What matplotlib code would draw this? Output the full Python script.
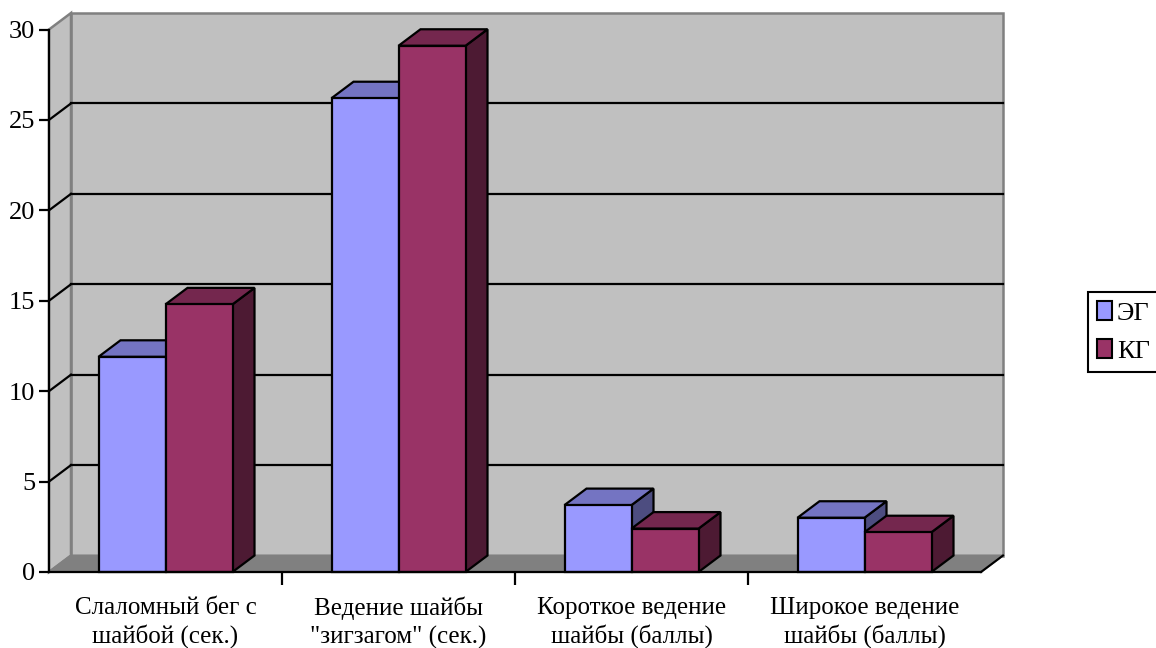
import matplotlib
matplotlib.use('Agg')
import matplotlib.pyplot as plt
from matplotlib.patches import Polygon, Patch
import matplotlib.colors as mcolors
import matplotlib.transforms as mtransforms

categories = ['Слаломный бег с\nшайбой (сек.)',
              'Ведение шайбы\n"зигзагом" (сек.)',
              'Короткое ведение\nшайбы (баллы)',
              'Широкое ведение\nшайбы (баллы)']
series_names = ['ЭГ', 'КГ']
eg_values = [11.9, 26.2, 3.7, 3.0]
kg_values = [14.8, 29.1, 2.4, 2.2]
y_ticks = [0, 5, 10, 15, 20, 25, 30]

plt.rcParams['font.family'] = ['Liberation Serif', 'DejaVu Serif']

W, H = 1156, 648
FS = 19
fig = plt.figure(figsize=(W / 100, H / 100), dpi=100)
ax = fig.add_axes([49 / W, 1 - 572 / H, 932 / W, (572 - 29.5) / H])
n = len(categories)
ymax = 30
ax.set_xlim(0, n)
ax.set_ylim(0, ymax)
ax.patch.set_visible(False)

# 3D depth offset (pixels -> data units)
px_per_x = 932 / n
px_per_y = (572 - 29.5) / ymax
ddx = 22 / px_per_x
ddy = 16.5 / px_per_y

wall_c = '#C0C0C0'
edge_c = '#808080'
floor_c = '#808080'

# walls
ax.add_patch(Polygon([(ddx, ddy), (n + ddx, ddy), (n + ddx, ymax + ddy), (ddx, ymax + ddy)],
                     closed=True, fc=wall_c, ec=edge_c, lw=1.8, clip_on=False, zorder=1))
ax.add_patch(Polygon([(0, 0), (ddx, ddy), (ddx, ymax + ddy), (0, ymax)],
                     closed=True, fc=wall_c, ec=edge_c, lw=1.8, clip_on=False, zorder=1))
ax.add_patch(Polygon([(0, 0), (n, 0), (n + ddx, ddy), (ddx, ddy)],
                     closed=True, fc=floor_c, ec=edge_c, lw=1.5, clip_on=False, zorder=1.5))
ax.plot([n, n + ddx], [0, ddy], color='black', lw=1.5, clip_on=False, zorder=1.6)

# gridlines
for t in y_ticks[1:-1]:
    ax.plot([ddx, n + ddx], [t + ddy, t + ddy], color='black', lw=1.6, clip_on=False, zorder=2)
    ax.plot([0, ddx], [t, t + ddy], color='black', lw=1.6, clip_on=False, zorder=2)


def shade(c, f):
    r, g, b = mcolors.to_rgb(c)
    return (r * f, g * f, b * f)


def bar3d(x0, x1, h, color, z):
    kw = dict(closed=True, ec='black', lw=1.6, clip_on=False, joinstyle='miter')
    ax.add_patch(Polygon([(x1, 0), (x1 + ddx, ddy), (x1 + ddx, h + ddy), (x1, h)],
                         fc=shade(color, 0.5), zorder=z, **kw))
    ax.add_patch(Polygon([(x0, h), (x1, h), (x1 + ddx, h + ddy), (x0 + ddx, h + ddy)],
                         fc=shade(color, 0.76), zorder=z, **kw))
    ax.add_patch(Polygon([(x0, 0), (x1, 0), (x1, h), (x0, h)],
                         fc=color, zorder=z + 0.01, **kw))


colors = ['#9999FF', '#993366']
bw = 67 / px_per_x
for i in range(n):
    cx = i + 0.5
    bar3d(cx - bw, cx, eg_values[i], colors[0], 3 + i * 0.1)
    bar3d(cx, cx + bw, kg_values[i], colors[1], 3.05 + i * 0.1)

# axes
for s in ['top', 'right']:
    ax.spines[s].set_visible(False)
for s in ['left', 'bottom']:
    ax.spines[s].set_color('black')
    ax.spines[s].set_linewidth(1.6)
    ax.spines[s].set_zorder(5)
ax.set_yticks(y_ticks)
ax.set_yticklabels([str(t) for t in y_ticks])
ax.tick_params(axis='y', length=7, width=1.6, direction='out', pad=3, labelsize=FS, colors='black')
ax.set_xticks([1, 2, 3])
ax.set_xticklabels([])
ax.tick_params(axis='x', length=9, width=1.6, direction='out')

trans = mtransforms.blended_transform_factory(ax.transData, fig.transFigure)
for i, lab in enumerate(categories):
    ax.text(i + 0.5, 1 - 597 / H, lab, transform=trans, ha='center', va='top',
            fontsize=18, linespacing=1.3)

handles = [Patch(fc=colors[0], ec='black', lw=1.5), Patch(fc=colors[1], ec='black', lw=1.5)]
leg = fig.legend(handles, series_names, loc='upper left', bbox_to_anchor=(1088 / W, 1 - 292 / H),
                 frameon=True, fancybox=False, edgecolor='black', framealpha=1, fontsize=FS,
                 handlelength=0.55, handleheight=0.7, handletextpad=0.2, borderpad=0.35,
                 labelspacing=0.55, borderaxespad=0)
leg.get_frame().set_linewidth(1.5)

fig.savefig('out.png', dpi=100)
